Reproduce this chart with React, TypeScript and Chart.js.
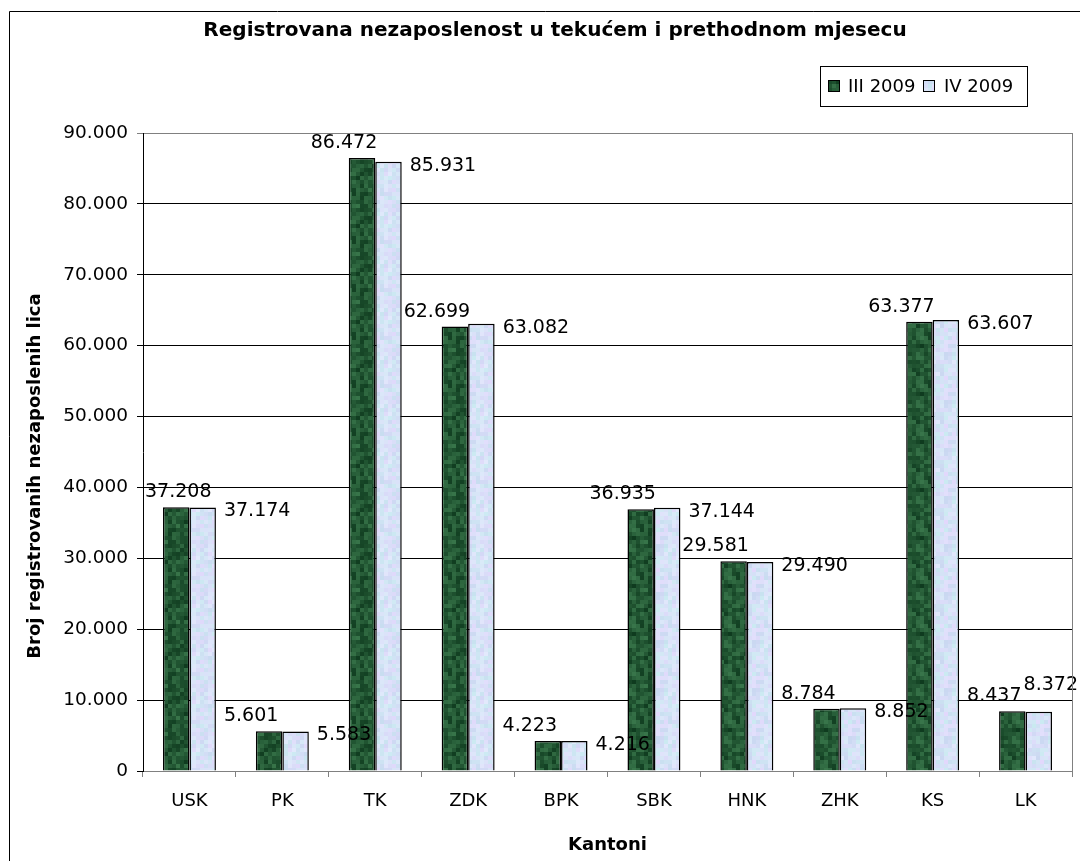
import React, { useEffect, useRef } from "react";
import { Chart, registerables } from "chart.js";

Chart.register(...registerables);

const chartTitle = "Registrovana nezaposlenost u tekućem i prethodnom mjesecu";
const yAxisTitle = "Broj registrovanih nezaposlenih lica";
const xAxisTitle = "Kantoni";
const categories = ["USK", "PK", "TK", "ZDK", "BPK", "SBK", "HNK", "ZHK", "KS", "LK"];
const seriesNames = ["III 2009", "IV 2009"];
const marchValues = [37208, 5601, 86472, 62699, 4223, 36935, 29581, 8784, 63377, 8437];
const aprilValues = [37174, 5583, 85931, 63082, 4216, 37144, 29490, 8852, 63607, 8372];
const yMin = 0;
const yMax = 90000;
const yStep = 10000;

const FONT = "'DejaVu Sans', sans-serif";

function fmt(v: number): string {
  return String(Math.round(v)).replace(/\B(?=(\d{3})+(?!\d))/g, ".");
}

function hash(i: number, j: number, s: number): number {
  const x = Math.sin(i * 12.9898 + j * 78.233 + s * 37.719) * 43758.5453;
  return x - Math.floor(x);
}

function makePattern(kind: "dark" | "light"): CanvasPattern | string {
  const c = document.createElement("canvas");
  const block = 4;
  const n = 12;
  c.width = block * n;
  c.height = block * n;
  const g = c.getContext("2d");
  if (!g) return kind === "dark" ? "#1e5a32" : "#d4e0f7";
  for (let i = 0; i < n; i++) {
    for (let j = 0; j < n; j++) {
      const r = hash(i, j, kind === "dark" ? 1 : 2);
      const r2 = hash(i, j, kind === "dark" ? 3 : 4);
      let col: string;
      if (kind === "dark") {
        const k = r * 0.7 + r2 * 0.3;
        col = `rgb(${Math.round(14 + 44 * k)},${Math.round(58 + 62 * k)},${Math.round(30 + 46 * k)})`;
      } else {
        const k = r;
        const t = r2;
        col = `rgb(${Math.round(200 + 26 * t)},${Math.round(216 + 18 * k)},${Math.round(240 + 12 * t)})`;
      }
      g.fillStyle = col;
      g.fillRect(i * block, j * block, block, block);
    }
  }
  const p = g.createPattern(c, "repeat");
  return p || (kind === "dark" ? "#1e5a32" : "#d4e0f7");
}

export default function App() {
  const ref = useRef<HTMLCanvasElement | null>(null);

  useEffect(() => {
    const canvas = ref.current;
    if (!canvas) return;
    const darkFill = makePattern("dark");
    const lightFill = makePattern("light");
    const fills = [darkFill, lightFill];

    const decor = {
      id: "decor",
      afterDatasetsDraw(chart: any) {
        const ctx = chart.ctx as CanvasRenderingContext2D;
        const W = chart.width;
        const a = chart.chartArea;
        ctx.save();
        ctx.fillStyle = "#000";
        ctx.font = `19px ${FONT}`;
        const m0 = chart.getDatasetMeta(0);
        const m1 = chart.getDatasetMeta(1);
        m0.data.forEach((bar: any, j: number) => {
          const txt = fmt(marchValues[j]);
          const w = ctx.measureText(txt).width;
          let x = bar.x - 18 - w / 2;
          if (x < a.left + 2) x = a.left + 2;
          ctx.textAlign = "left";
          ctx.textBaseline = "alphabetic";
          ctx.fillText(txt, x, bar.y - 10);
        });
        m1.data.forEach((bar: any, j: number) => {
          const txt = fmt(aprilValues[j]);
          const w = ctx.measureText(txt).width;
          let x = bar.x + bar.width / 2 + 8;
          let y = bar.y + 4;
          ctx.textAlign = "left";
          ctx.textBaseline = "middle";
          if (x + w > W - 2) {
            x = W - 2 - w;
            y = bar.y - 27;
          }
          ctx.fillText(txt, x, y);
        });
        ctx.restore();
      },
      afterDraw(chart: any) {
        const ctx = chart.ctx as CanvasRenderingContext2D;
        const a = chart.chartArea;
        ctx.save();
        // plot area right border
        ctx.strokeStyle = "#808080";
        ctx.lineWidth = 1;
        ctx.beginPath();
        ctx.moveTo(Math.round(a.right) + 0.5, a.top);
        ctx.lineTo(Math.round(a.right) + 0.5, a.bottom);
        ctx.stroke();
        // outer border
        ctx.strokeStyle = "#000";
        ctx.beginPath();
        ctx.moveTo(9.5, 900);
        ctx.lineTo(9.5, 11.5);
        ctx.lineTo(1100, 11.5);
        ctx.stroke();
        // title
        ctx.fillStyle = "#000";
        ctx.font = `bold 20px ${FONT}`;
        ctx.textAlign = "center";
        ctx.textBaseline = "middle";
        ctx.fillText(chartTitle, 555, 31);
        // y axis title
        ctx.save();
        ctx.translate(35, 476);
        ctx.rotate(-Math.PI / 2);
        ctx.font = `bold 18px ${FONT}`;
        ctx.fillText(yAxisTitle, 0, 0);
        ctx.restore();
        // legend
        ctx.strokeStyle = "#000";
        ctx.strokeRect(820.5, 66.5, 207, 40);
        const items = [
          { x: 828, tx: 848 },
          { x: 923, tx: 944 },
        ];
        ctx.font = `18px ${FONT}`;
        ctx.textAlign = "left";
        items.forEach((it, i) => {
          ctx.fillStyle = fills[i] as any;
          ctx.fillRect(it.x, 80, 11, 11);
          ctx.strokeRect(it.x + 0.5, 80.5, 11, 11);
          ctx.fillStyle = "#000";
          ctx.fillText(seriesNames[i], it.tx, 87);
        });
        ctx.restore();
      },
    };

    const chart = new Chart(canvas, {
      type: "bar",
      data: {
        labels: categories,
        datasets: [
          {
            label: seriesNames[0],
            data: marchValues,
            backgroundColor: darkFill as any,
            borderColor: "#000",
            borderWidth: 1.5,
            categoryPercentage: 0.57,
            barPercentage: 1.0,
          },
          {
            label: seriesNames[1],
            data: aprilValues,
            backgroundColor: lightFill as any,
            borderColor: "#000",
            borderWidth: 1.5,
            categoryPercentage: 0.57,
            barPercentage: 1.0,
          },
        ],
      },
      options: {
        responsive: false,
        animation: false,
        devicePixelRatio: 1,
        layout: { padding: { left: 14, right: 8, top: 133, bottom: 0 } },
        plugins: {
          legend: { display: false },
          title: { display: false },
          tooltip: { enabled: false },
        },
        scales: {
          x: {
            afterFit: (s: any) => {
              s.height = 90;
            },
            grid: {
              offset: true,
              drawOnChartArea: false,
              drawTicks: true,
              tickLength: 6,
              color: "#808080",
            },
            border: { display: true, color: "#808080", width: 1 },
            ticks: {
              color: "#000",
              font: { family: FONT, size: 18 },
              padding: 14,
              maxRotation: 0,
            },
            title: {
              display: true,
              text: xAxisTitle,
              color: "#000",
              font: { family: FONT, size: 18, weight: "bold" },
              padding: { top: 4, bottom: 5 },
            },
          },
          y: {
            min: yMin,
            max: yMax,
            afterFit: (s: any) => {
              s.width = 129;
            },
            grid: {
              color: (c: any) => (c.tick && c.tick.value === yMax ? "#808080" : "#000"),
              lineWidth: 1,
              drawTicks: true,
              tickLength: 6,
            },
            border: { display: true, color: "#000", width: 1 },
            ticks: {
              stepSize: yStep,
              color: "#000",
              font: { family: FONT, size: 18.5 },
              padding: 9,
              callback: (v: any) => fmt(Number(v)),
            },
            title: { display: false },
          },
        },
      },
      plugins: [decor],
    });

    return () => chart.destroy();
  }, []);

  return (
    <div
      style={{
        position: "fixed",
        left: 0,
        top: 0,
        width: 1080,
        height: 861,
        background: "#fff",
        overflow: "hidden",
      }}
    >
      <canvas ref={ref} width={1080} height={861} style={{ display: "block" }} />
    </div>
  );
}
